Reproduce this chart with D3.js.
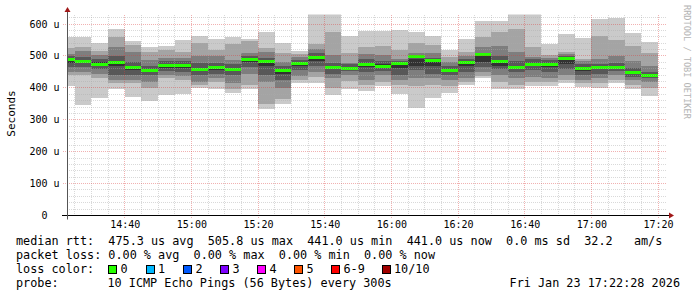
<!DOCTYPE html>
<html>
<head>
<meta charset="utf-8">
<script src="https://cdn.jsdelivr.net/npm/d3@7"></script>
<style>
html, body { margin: 0; padding: 0; background: #fff; }
svg { display: block; font-family: "DejaVu Sans Mono", monospace; }
</style>
</head>
<body>
<div id="chart"></div>
<script>
// time window of the graph
var windowStart = "14:22:41";
var windowEnd = "17:22:41";

// start of each 5 minute step
var steps = ["14:20","14:25","14:30","14:35","14:40","14:45","14:50","14:55",
  "15:00","15:05","15:10","15:15","15:20","15:25","15:30","15:35",
  "15:40","15:45","15:50","15:55","16:00","16:05","16:10","16:15",
  "16:20","16:25","16:30","16:35","16:40","16:45","16:50","16:55",
  "17:00","17:05","17:10","17:15"];

// median rtt per step (us)
var medians = [491,485,476,480,464,457,471,471,458,465,458,489,485,456,479,497,
  464,463,476,470,479,499,487,456,482,505,484,467,476,476,495,463,464,466,449,441];

// the 10 sorted pings of each step (us)
var pings = [
  [405,440,450,465,478,492,500,505,524,558],
  [347,440,450,465,478,488,497,515,528,558],
  [369,430,445,460,470,480,490,503,515,541],
  [395,415,424,440,470,482,500,529,558,584],
  [372,416,424,440,455,466,480,513,534,547],
  [359,401,420,440,452,460,470,487,511,529],
  [379,432,440,452,462,474,485,495,520,532],
  [382,426,436,450,462,474,485,495,513,550],
  [401,408,419,440,452,462,477,500,541,562],
  [398,420,430,445,455,466,478,500,518,553],
  [384,396,414,440,452,462,475,487,536,558],
  [395,408,443,466,480,492,500,508,546,552],
  [333,351,420,440,470,485,495,513,524,576],
  [351,365,400,424,445,460,470,482,508,541],
  [416,426,437,456,468,478,488,498,506,516],
  [414,435,450,470,485,498,508,521,539,640],
  [377,400,432,445,458,466,478,503,574,640],
  [395,422,440,452,458,466,474,477,508,562],
  [391,410,426,450,465,478,490,505,529,578],
  [405,420,440,452,462,474,485,503,531,578],
  [382,410,424,440,462,475,485,492,518,581],
  [337,405,430,455,470,490,500,510,541,576],
  [369,410,430,445,468,485,495,510,534,562],
  [384,405,425,440,450,458,468,480,497,518],
  [408,418,430,450,470,482,490,500,513,553],
  [431,437,450,465,480,500,510,529,560,610],
  [396,420,440,458,470,484,500,532,576,610],
  [395,410,430,450,460,470,485,513,584,640],
  [405,417,435,455,468,478,490,497,529,640],
  [405,419,430,450,465,478,488,495,503,537],
  [416,424,440,460,475,490,500,506,513,568],
  [403,414,425,440,452,462,475,485,492,557],
  [400,415,430,445,458,466,476,490,563,616],
  [414,425,440,452,460,468,478,500,550,618],
  [398,410,425,435,444,452,462,484,531,573],
  [375,400,420,430,437,441,450,470,508,543]
];

// axis labels
var yTicks = [0,100,200,300,400,500,600];
var xTickLabels = ["14:40","15:00","15:20","15:40","16:00","16:20","16:40","17:00","17:20"];

// legend
var legendLines = [
  "median rtt:  475.3 us avg  505.8 us max  441.0 us min  441.0 us now  0.0 ms sd  32.2   am/s",
  "packet loss: 0.00 % avg  0.00 % max  0.00 % min  0.00 % now"
];
var lossLabels = ["0","1","2","3","4","5","6-9","10/10"];
var lossColors = ["#26ff00","#00b8ff","#0059ff","#7e00ff","#ff00ff","#ff5500","#ff0000","#a00000"];
var probeText = "10 ICMP Echo Pings (56 Bytes) every 300s";
var stampText = "Fri Jan 23 17:22:28 2026";

var width = 697, height = 297;
var plotL = 67, plotR = 667, plotT = 14.5, plotB = 215.5;

var parseHM = d3.timeParse("%H:%M");
var parseHMS = d3.timeParse("%H:%M:%S");

// set the ranges
var x = d3.scaleTime()
  .domain([parseHMS(windowStart), parseHMS(windowEnd)])
  .range([plotL, plotR]);
var y = d3.scaleLinear().domain([0, 630]).range([plotB, plotT]);

var svg = d3.select("#chart").append("svg")
  .attr("width", width)
  .attr("height", height);

svg.append("rect").attr("width", width).attr("height", height).attr("fill", "#fff");

svg.append("clipPath").attr("id", "plot")
  .append("rect")
  .attr("x", plotL).attr("y", plotT)
  .attr("width", plotR - plotL).attr("height", plotB - plotT);

// smoke, outer pair lightest
var shades = ["#cacaca","#a4a4a4","#7e7e7e","#585858","#323232"];
var cols = steps.map(function(s, i) {
  var t0 = parseHM(s);
  return { t0: t0, t1: d3.timeMinute.offset(t0, 5), p: pings[i], med: medians[i] };
});

var smoke = svg.append("g").attr("clip-path", "url(#plot)").attr("shape-rendering", "crispEdges");
cols.forEach(function(c) {
  var x0 = Math.round(Math.max(x(c.t0), plotL));
  var x1 = Math.round(x(c.t1));
  shades.forEach(function(col, k) {
    var hi = Math.round(y(c.p[9 - k])), lo = Math.round(y(c.p[k]));
    smoke.append("rect")
      .attr("x", x0).attr("width", x1 - x0)
      .attr("y", hi).attr("height", lo - hi)
      .attr("fill", col);
  });
  smoke.append("rect")
    .attr("x", x0).attr("width", x1 - x0)
    .attr("y", Math.round(y(c.med)) - 1).attr("height", 3)
    .attr("fill", lossColors[0]);
});

// grid on top of the smoke
var minorCol = "rgba(170,170,170,0.45)";
var majorCol = "rgba(220,60,60,0.4)";
var grid = svg.append("g").attr("shape-rendering", "crispEdges");
var minorX = d3.timeMinute.every(5).range(x.domain()[0], x.domain()[1]);
minorX.forEach(function(t) {
  if (t.getMinutes() % 20 === 0) return;
  var px = Math.floor(x(t)) + 0.5;
  grid.append("line").attr("x1", px).attr("x2", px).attr("y1", plotT).attr("y2", plotB)
    .attr("stroke", minorCol).attr("stroke-dasharray", "1,1");
});
d3.range(20, 630, 20).forEach(function(v) {
  if (v % 100 === 0) return;
  var py = Math.floor(y(v)) + 0.5;
  grid.append("line").attr("x1", plotL).attr("x2", plotR).attr("y1", py).attr("y2", py)
    .attr("stroke", minorCol).attr("stroke-dasharray", "1,1");
});
xTickLabels.forEach(function(s) {
  var px = Math.floor(x(parseHM(s))) + 0.5;
  grid.append("line").attr("x1", px).attr("x2", px).attr("y1", plotT).attr("y2", plotB + 3)
    .attr("stroke", majorCol).attr("stroke-dasharray", "1,1");
});
yTicks.forEach(function(v) {
  if (v === 0) return;
  var py = Math.floor(y(v)) + 0.5;
  grid.append("line").attr("x1", plotL - 4).attr("x2", plotR).attr("y1", py).attr("y2", py)
    .attr("stroke", majorCol).attr("stroke-dasharray", "1,1");
});

// axes
svg.append("line").attr("x1", plotL - 5).attr("x2", plotR + 3)
  .attr("y1", plotB).attr("y2", plotB).attr("stroke", "#000");
svg.append("line").attr("x1", plotL + 0.5).attr("x2", plotL + 0.5)
  .attr("y1", plotB + 4).attr("y2", 10).attr("stroke", "#555");
svg.append("path").attr("d", "M" + (plotR + 2) + "," + (plotB - 3) + "L" + (plotR + 7) + "," + plotB + "L" + (plotR + 2) + "," + (plotB + 3) + "Z")
  .attr("fill", "#a01818");
svg.append("path").attr("d", "M" + (plotL - 2.5) + ",12L" + (plotL + 0.5) + ",7L" + (plotL + 3.5) + ",12Z")
  .attr("fill", "#a01818");

// tick labels
svg.selectAll(".ylab").data(yTicks).enter().append("text")
  .attr("class", "ylab")
  .attr("x", 44.5).attr("y", function(v) { return Math.floor(y(v)) + 4; })
  .attr("text-anchor", "middle").attr("font-size", "10px").attr("fill", "#000")
  .text(function(v) { return v === 0 ? "0" : v + " u"; });

svg.selectAll(".xlab").data(xTickLabels).enter().append("text")
  .attr("class", "xlab")
  .attr("x", function(s) { return x(parseHM(s)) + 0.5; }).attr("y", 227.5)
  .attr("text-anchor", "middle").attr("font-size", "10px").attr("fill", "#000")
  .text(function(s) { return s; });

svg.append("text")
  .attr("transform", "translate(14.5,113.5) rotate(-90)")
  .attr("text-anchor", "middle").attr("font-size", "11px").attr("fill", "#000")
  .text("Seconds");

svg.append("text")
  .attr("transform", "translate(684,5) rotate(90)")
  .attr("font-size", "8.6px").attr("fill", "#b4b4b4")
  .text("RRDTOOL / TOBI OETIKER");

// legend
var fs = "11.8px";
legendLines.forEach(function(s, i) {
  svg.append("text").attr("x", 16).attr("y", 244.5 + i * 14)
    .attr("font-size", fs).attr("fill", "#000").style("white-space", "pre")
    .text(s);
});
svg.append("text").attr("x", 16).attr("y", 272.5)
  .attr("font-size", fs).attr("fill", "#000").text("loss color:");
var swatchX = [108, 145.5, 183, 220, 257, 294, 331, 381.5];
lossLabels.forEach(function(l, i) {
  svg.append("rect").attr("x", Math.round(swatchX[i]) + 0.5).attr("y", 265.5)
    .attr("width", 8).attr("height", 8)
    .attr("fill", lossColors[i]).attr("stroke", "#000");
  svg.append("text").attr("x", swatchX[i] + 12.5).attr("y", 272.5)
    .attr("font-size", fs).attr("fill", "#000").text(l);
});
svg.append("text").attr("x", 16).attr("y", 286.5)
  .attr("font-size", fs).attr("fill", "#000").text("probe:");
svg.append("text").attr("x", 107.5).attr("y", 286.5)
  .attr("font-size", fs).attr("fill", "#000").text(probeText);
svg.append("text").attr("x", 680).attr("y", 286.5).attr("text-anchor", "end")
  .attr("font-size", fs).attr("fill", "#000").text(stampText);
</script>
</body>
</html>
